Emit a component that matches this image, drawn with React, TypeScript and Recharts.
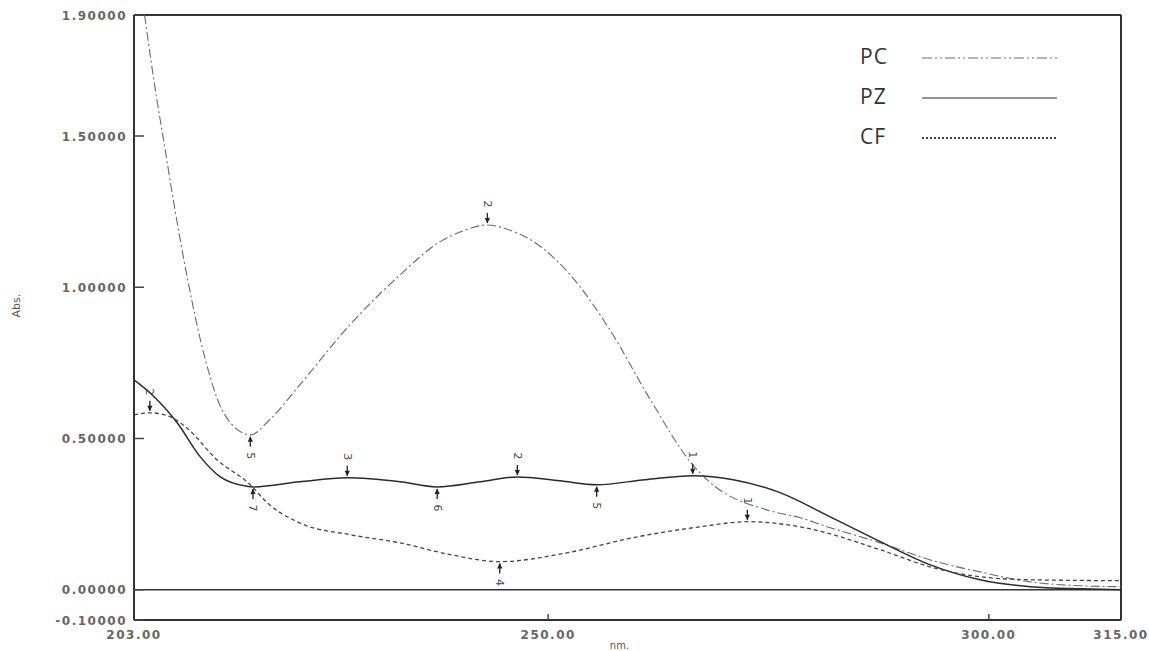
import React from 'react';
import { LineChart, Line, XAxis, YAxis, ReferenceLine, ReferenceDot, Legend } from 'recharts';

// ---- data (wavelength nm / absorbance) ----
const pcNm = [204.2, 205.6, 206.3, 207.4, 209.1, 211.1, 213.3, 216.2, 218.4, 221.8, 227.5, 233.2, 237.7, 240.4, 243.1, 245.8, 248.0, 252.5, 257.0, 261.6, 266.4, 268.7, 274.8, 278.6, 282.0, 287.7, 293.3, 299.0, 304.7, 310.4, 315.0];
const pcAbs = [1.9, 1.619, 1.497, 1.299, 1.024, 0.76, 0.578, 0.512, 0.562, 0.677, 0.876, 1.041, 1.15, 1.187, 1.206, 1.187, 1.157, 1.041, 0.859, 0.628, 0.413, 0.347, 0.264, 0.238, 0.205, 0.155, 0.099, 0.059, 0.026, 0.013, 0.01];

const pzNm = [203.0, 204.8, 207.9, 210.5, 212.8, 215.8, 216.5, 221.8, 227.2, 233.2, 237.4, 242.3, 246.5, 251.3, 255.5, 261.0, 266.4, 271.0, 276.3, 282.0, 287.7, 293.3, 299.0, 304.7, 310.4, 315.0];
const pzAbs = [0.694, 0.651, 0.552, 0.44, 0.373, 0.342, 0.34, 0.357, 0.37, 0.357, 0.34, 0.357, 0.373, 0.36, 0.347, 0.364, 0.377, 0.364, 0.321, 0.241, 0.159, 0.083, 0.033, 0.01, 0.003, 0.0];

const cfNm = [203.0, 204.8, 207.1, 209.0, 212.4, 216.2, 218.1, 221.8, 227.5, 233.2, 238.9, 244.5, 252.1, 259.6, 267.2, 272.6, 278.6, 287.7, 293.3, 299.0, 304.7, 315.0];
const cfAbs = [0.578, 0.585, 0.572, 0.535, 0.43, 0.347, 0.288, 0.221, 0.182, 0.155, 0.116, 0.093, 0.122, 0.172, 0.208, 0.225, 0.208, 0.132, 0.076, 0.043, 0.033, 0.03];

// peak / valley markers (number printed by the instrument)
const pcMarks = [
  { nm: 216.2, abs: 0.512, label: '5', below: true },
  { nm: 243.1, abs: 1.206, label: '2', below: false },
];
const pzMarks = [
  { nm: 216.5, abs: 0.34, label: '7', below: true },
  { nm: 227.2, abs: 0.37, label: '3', below: false },
  { nm: 237.4, abs: 0.34, label: '6', below: true },
  { nm: 246.5, abs: 0.373, label: '2', below: false },
  { nm: 255.5, abs: 0.347, label: '5', below: true },
  { nm: 266.4, abs: 0.377, label: '1', below: false },
];
const cfMarks = [
  { nm: 204.8, abs: 0.585, label: '2', below: false },
  { nm: 244.5, abs: 0.093, label: '4', below: true },
  { nm: 272.6, abs: 0.225, label: '1', below: false },
];

const xTicks = [203, 250, 300, 315];
const yTicks = [-0.1, 0, 0.5, 1.0, 1.5, 1.9];
const seriesNames = ['PC', 'PZ', 'CF'];

const toRows = (xs: number[], ys: number[]) => xs.map((x, i) => ({ nm: x, abs: ys[i] }));
const pcData = toRows(pcNm, pcAbs);
const pzData = toRows(pzNm, pzAbs);
const cfData = toRows(cfNm, cfAbs);

const styles: Record<string, { stroke: string; width: number; dash?: string; legendDash?: string; legendWidth: number }> = {
  PC: { stroke: '#6a6a6a', width: 1.1, dash: '9 3 2 3', legendDash: '10 3 2 3 2 3', legendWidth: 1.2 },
  PZ: { stroke: '#2a2a2a', width: 1.5, legendWidth: 1.2 },
  CF: { stroke: '#444', width: 1.3, dash: '4 3', legendDash: '2 2', legendWidth: 2.2 },
};

const tickFont = { fontFamily: 'DejaVu Sans', fontSize: 12, fontWeight: 700, fill: '#666', letterSpacing: 1.5 } as const;

const YTick = (props: any) => {
  const { x, y, payload } = props;
  return (
    <g>
      <text x={x} y={y} dy={4.5} textAnchor="end" {...tickFont}>{Number(payload.value).toFixed(5)}</text>
      <line x1={x + 7} x2={x + 17} y1={y} y2={y} stroke="#444" strokeWidth={1.5} />
    </g>
  );
};

const XTick = (props: any) => {
  const { x, y, payload } = props;
  const v = Number(payload.value);
  const inner = v !== 203 && v !== 315;
  return (
    <g>
      <text x={x} y={y} dy={8} textAnchor="middle" {...tickFont}>{v.toFixed(2)}</text>
      {inner && <line x1={x} x2={x} y1={y - 11} y2={y - 17} stroke="#444" strokeWidth={1.5} />}
    </g>
  );
};

const Marker = (props: any) => {
  const { cx, cy, label, below } = props;
  if (cx == null || cy == null) return null;
  const s = below ? 1 : -1;
  const ty = cy + s * 21;
  return (
    <g>
      <line x1={cx} y1={cy + s * 2} x2={cx} y2={cy + s * 12} stroke="#222" strokeWidth={1.3} />
      <path d={`M${cx - 2.6},${cy + s * 7} L${cx + 2.6},${cy + s * 7} L${cx},${cy + s * 1.5} Z`} fill="#222" />
      <text x={cx} y={ty} transform={`rotate(90 ${cx} ${ty})`} textAnchor="middle" dominantBaseline="central"
        fontFamily="DejaVu Sans" fontSize={11} fill="#444">{label}</text>
    </g>
  );
};

const renderLegend = () => (
  <div style={{ fontFamily: 'Open Sans', fontSize: 21, color: '#333' }}>
    {seriesNames.map((n) => {
      const st = styles[n];
      return (
        <div key={n} style={{ display: 'flex', alignItems: 'center', height: 40 }}>
          <span style={{ width: 62, lineHeight: '40px', letterSpacing: 1 }}>{n}</span>
          <svg width={140} height={12} style={{ marginTop: 4 }}>
            <line x1={0} x2={135} y1={6} y2={6} stroke={st.stroke} strokeWidth={st.legendWidth} strokeDasharray={st.legendDash} />
          </svg>
        </div>
      );
    })}
  </div>
);

const markerDots = (marks: typeof pcMarks, key: string) =>
  marks.map((m, i) => (
    <ReferenceDot key={key + i} x={m.nm} y={m.abs} r={0}
      shape={(p: any) => <Marker {...p} label={m.label} below={m.below} />} />
  ));

export default function App() {
  return (
    <div style={{ position: 'absolute', left: 0, top: 0, background: '#fff' }}>
      <LineChart width={1149} height={651} margin={{ top: 15, right: 28, bottom: 0, left: 0 }}>
        <XAxis dataKey="nm" type="number" domain={[203, 315]} ticks={xTicks} allowDataOverflow
          height={31} tickLine={false} tickSize={0} tickMargin={11} tick={<XTick />}
          axisLine={{ stroke: '#333', strokeWidth: 2 }}
          label={{ value: 'nm.', position: 'insideBottom', offset: 2, dx: -8, fontSize: 10, fill: '#555', fontFamily: 'DejaVu Sans' }} />
        <YAxis type="number" domain={[-0.1, 1.9]} ticks={yTicks} allowDataOverflow width={134}
          tickLine={false} tickSize={0} tickMargin={7} tick={<YTick />}
          axisLine={{ stroke: '#333', strokeWidth: 2 }}
          label={{ value: 'Abs.', angle: -90, position: 'insideLeft', offset: 16, fontSize: 11, fill: '#555', fontFamily: 'DejaVu Sans' }} />
        <ReferenceLine y={1.9} stroke="#333" strokeWidth={2} />
        <ReferenceLine x={315} stroke="#333" strokeWidth={2} />
        <ReferenceLine y={0} stroke="#333" strokeWidth={1.5} />
        <Line data={pcData} dataKey="abs" name="PC" type="monotone" stroke={styles.PC.stroke} strokeWidth={styles.PC.width}
          strokeDasharray={styles.PC.dash} dot={false} isAnimationActive={false} />
        <Line data={pzData} dataKey="abs" name="PZ" type="monotone" stroke={styles.PZ.stroke} strokeWidth={styles.PZ.width}
          dot={false} isAnimationActive={false} />
        <Line data={cfData} dataKey="abs" name="CF" type="monotone" stroke={styles.CF.stroke} strokeWidth={styles.CF.width}
          strokeDasharray={styles.CF.dash} dot={false} isAnimationActive={false} />
        {markerDots(pcMarks, 'pc')}
        {markerDots(pzMarks, 'pz')}
        {markerDots(cfMarks, 'cf')}
        <Legend layout="vertical" align="center" verticalAlign="middle" content={renderLegend}
          wrapperStyle={{ left: 860, top: 36, width: 220, height: 130 }} />
      </LineChart>
    </div>
  );
}
